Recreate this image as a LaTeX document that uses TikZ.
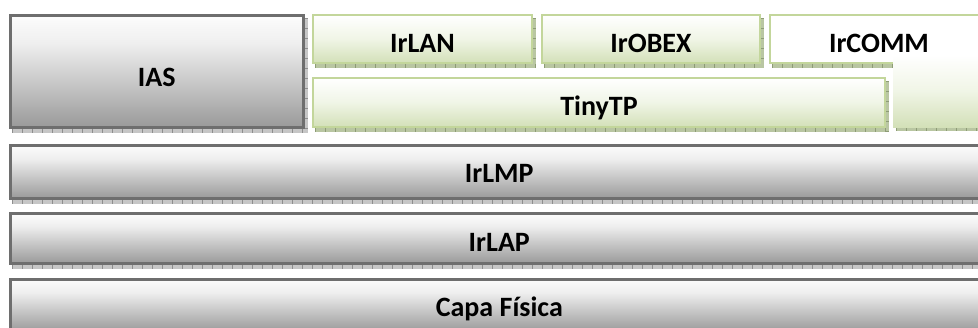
\documentclass[tikz,border=0pt]{standalone}
\usepackage{fontspec}
\setmainfont{Carlito}
\usetikzlibrary{calc,backgrounds}

% palette
\definecolor{grayline}{HTML}{6E6E6E}
\definecolor{gtop}{HTML}{FCFCFC}
\definecolor{glight}{HTML}{EEEEEE}
\definecolor{gmid}{HTML}{CECECE}
\definecolor{gbot}{HTML}{9A9A9A}
\definecolor{greenline}{HTML}{C3D69B}
\definecolor{ltop}{HTML}{FFFFFF}
\definecolor{lmid}{HTML}{F0F5E6}
\definecolor{lbot}{HTML}{D3E0B8}
\definecolor{shgray}{HTML}{C6C6C6}
\definecolor{shgraytick}{HTML}{8E8E8E}
\definecolor{shgreen}{HTML}{B9C6A2}
\definecolor{shgreentick}{HTML}{8E9C76}

% vertical fills: the path is fitted into 25bp..75bp
\pgfdeclareverticalshading{graybar}{100bp}{color(0bp)=(gbot); color(25bp)=(gbot);
  color(48bp)=(gmid); color(62bp)=(glight); color(75bp)=(gtop); color(100bp)=(gtop)}
\pgfdeclareverticalshading{greenbar}{100bp}{color(0bp)=(lbot); color(25bp)=(lbot);
  color(50bp)=(lmid); color(75bp)=(ltop); color(100bp)=(ltop)}

\tikzset{
  layerbox/.style={anchor=north west, inner sep=0pt, align=center,
    font=\bfseries\fontsize{28}{28}\selectfont},
  graybox/.style={layerbox, draw=grayline, line width=2.6pt, shading=graybar},
  greenbox/.style={layerbox, draw=greenline, line width=2pt, shading=greenbar},
  whitebox/.style={layerbox, draw=greenline, line width=2pt, fill=white},
  grayshade/.style={fill=shgray},
  greenshade/.style={fill=shgreen},
  grayticks/.style={draw=shgraytick, dash pattern=on 1pt off 9pt},
  greenticks/.style={draw=shgreentick, dash pattern=on 1pt off 9pt},
}

% offset shadow with tick marks behind a named box
\newcommand\castshadow[2]{%
  \fill[#2shade] ($(#1.north west)+(3,4)$) rectangle ($(#1.south east)+(3,4)$);
  \draw[#2ticks, line width=4pt] ($(#1.south west)+(3,2)$) -- ($(#1.south east)+(3,2)$);
  \draw[#2ticks, line width=3pt] ($(#1.north east)+(1.5,4)$) -- ($(#1.south east)+(1.5,4)$);
}

\begin{document}
\begin{tikzpicture}[x=1pt,y=-1pt]
\useasboundingbox (0,0) rectangle (978,327);

% left column and the three full-width layers
\node[graybox, minimum width=293, text height=71, text depth=41] (ias) at (9,14) {IAS};
\node[graybox, minimum width=978, text height=37.5, text depth=15.5] (irlmp) at (9,144) {IrLMP};
\node[graybox, minimum width=978, text height=38, text depth=12] (irlap) at (9,212) {IrLAP};
\node[graybox, minimum width=978, text height=37.5, text depth=14.5] (phys) at (9,278) {Capa Física};

% upper protocols
\node[greenbox, minimum width=219, text height=37, text depth=11] (irlan) at (312,14) {IrLAN};
\node[greenbox, minimum width=218, text height=37, text depth=11] (irobex) at (541,14) {IrOBEX};
\node[whitebox, minimum width=218, text height=37, text depth=11] (ircomm) at (769,14) {IrCOMM};
\node[greenbox, minimum width=572, text height=37, text depth=12] (tinytp) at (312,77) {TinyTP};
% IrCOMM reaches down beside TinyTP
\node[anchor=north west, inner sep=0pt, outer sep=0pt, shading=greenbar,
      minimum width=100, minimum height=72] (commtail) at (893,55) {};

\begin{pgfonlayer}{background}
  \castshadow{ias}{gray}
  \castshadow{irlmp}{gray}
  \castshadow{irlap}{gray}
  \castshadow{phys}{gray}
  \castshadow{irlan}{green}
  \castshadow{irobex}{green}
  \castshadow{ircomm}{green}
  \castshadow{tinytp}{green}
  \castshadow{commtail}{green}
\end{pgfonlayer}
\end{tikzpicture}
\end{document}
